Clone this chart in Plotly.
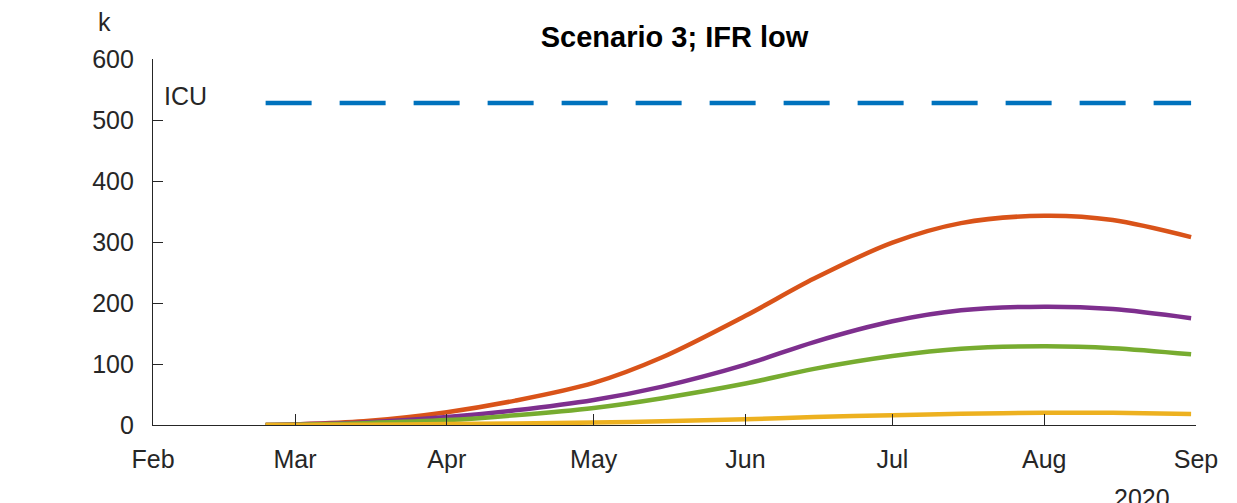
import plotly.graph_objects as go

dates = ["2020-02-24", "2020-03-01", "2020-03-15", "2020-04-01", "2020-04-15",
         "2020-05-01", "2020-05-15", "2020-06-01", "2020-06-15", "2020-07-01",
         "2020-07-15", "2020-08-01", "2020-08-15", "2020-08-31"]
red = [0, 1, 6, 21, 40, 69, 111, 179, 240, 299, 331, 343, 336, 308]
purple = [0, 1, 4, 13, 24, 41, 63, 99, 136, 170, 188, 194, 190, 175]
green = [0, 0.5, 3, 8, 16, 28, 44, 68, 92, 113, 125, 129, 126, 116]
yellow = [0, 0, 0.5, 1.5, 2.5, 4, 6, 9.5, 13, 16, 18.5, 20, 20, 18]
icu_dates = ["2020-02-24", "2020-08-31"]
icu_level = [528, 528]

month_ticks = ["2020-02-01", "2020-03-01", "2020-04-01", "2020-05-01", "2020-06-01",
               "2020-07-01", "2020-08-01", "2020-09-01"]
month_labels = ["Feb", "Mar", "Apr", "May", "Jun", "Jul", "Aug", "Sep"]
y_ticks = [0, 100, 200, 300, 400, 500, 600]

fig = go.Figure()
fig.add_trace(go.Scatter(x=icu_dates, y=icu_level, mode="lines",
                         line=dict(color="#0072BD", width=4.5, dash="46px,28px")))
for vals, col in [(red, "#D95319"), (purple, "#7E2F8E"), (green, "#77AC30"), (yellow, "#EDB120")]:
    fig.add_trace(go.Scatter(x=dates, y=vals, mode="lines",
                             line=dict(color=col, width=4.5, shape="spline", smoothing=0.9)))

axis_font = dict(family="Liberation Sans, Arial, sans-serif", size=25, color="#262626")
off = 8  # page body margin
fig.update_layout(
    width=1237, height=503,
    margin=dict(l=153 - off, r=41 + off, t=59 - off, b=78 + off),
    paper_bgcolor="white", plot_bgcolor="white",
    showlegend=False,
    title=dict(text="<b>Scenario 3; IFR low</b>", x=(153 + 1196) / 2 / 1237 - off / 1237,
               xanchor="center", y=1 - (37 - off) / 503, yanchor="middle",
               font=dict(family="Liberation Sans, Arial, sans-serif", size=29, color="black")),
    xaxis=dict(type="date", range=["2020-02-01", "2020-09-01"], tickvals=month_ticks,
               ticktext=month_labels, ticks="inside", ticklen=11, tickwidth=1.2,
               tickcolor="#262626", showline=True, linecolor="#262626", linewidth=1.2,
               showgrid=False, zeroline=False, tickfont=axis_font, ticklabelstandoff=12),
    yaxis=dict(range=[0, 600], tickvals=y_ticks, ticks="inside", ticklen=10, tickwidth=1.2,
               tickcolor="#262626", showline=True, linecolor="#262626", linewidth=1.2,
               showgrid=False, zeroline=False, tickfont=axis_font, ticklabelstandoff=13),
    annotations=[
        dict(text="ICU", xref="paper", yref="y", x=(162 - 153) / 1043, y=539,
             xanchor="left", yanchor="middle", showarrow=False, font=axis_font),
        dict(text="k", xref="paper", yref="paper", x=(104 - 153) / 1043, y=(425 - 22) / 366,
             xanchor="center", yanchor="middle", showarrow=False, font=axis_font),
        dict(text="2020", xref="paper", yref="paper", x=(1142 - 153) / 1043, y=(425 - 498) / 366,
             xanchor="center", yanchor="middle", showarrow=False, font=axis_font),
    ],
)
fig.write_html("out.html")
